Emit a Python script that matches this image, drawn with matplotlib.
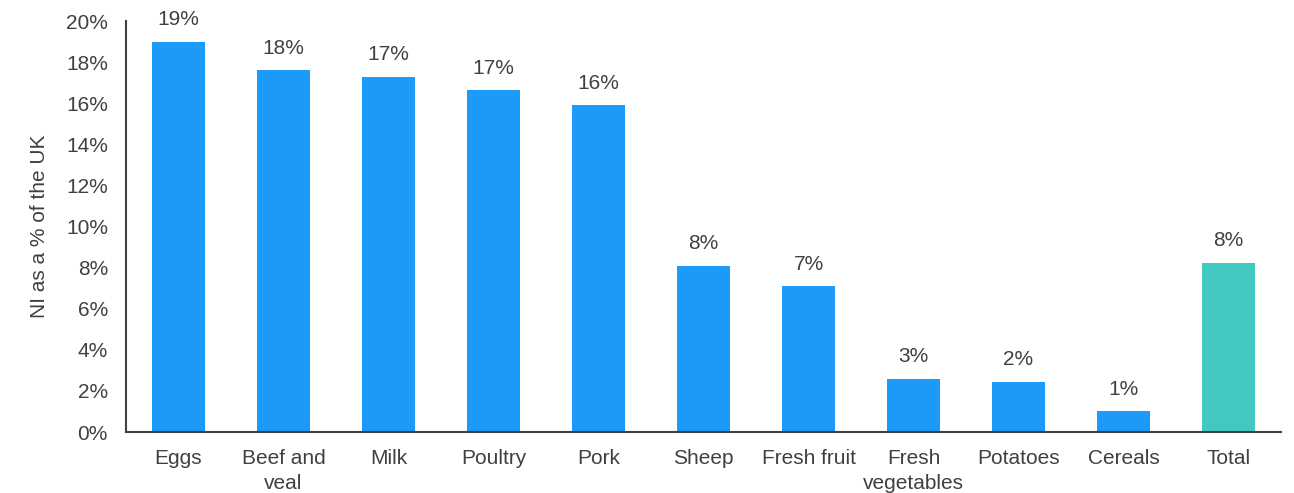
import numpy as np
import matplotlib.pyplot as plt

plt.rcParams['font.family'] = ['Liberation Sans', 'DejaVu Sans']

categories = ['Eggs', 'Beef and\nveal', 'Milk', 'Poultry', 'Pork', 'Sheep',
              'Fresh fruit', 'Fresh\nvegetables', 'Potatoes', 'Cereals', 'Total']
values = [19.0, 17.6, 17.3, 16.65, 15.9, 8.1, 7.1, 2.6, 2.45, 1.0, 8.25]
colors = ['#1B9AF9'] * 10 + ['#42C8C0']

text_col = '#404040'
fs = 15

fig = plt.figure(figsize=(12.94, 4.93), dpi=100)
ax = fig.add_axes([0.0974, 0.1237, 0.8926, 0.8333])

x = np.arange(len(categories))
bars = ax.bar(x, values, width=0.5, color=colors)

for xi, v in zip(x, values):
    ax.annotate(f'{round(v)}%', (xi, v), xytext=(0, 9), textcoords='offset points',
                ha='center', va='bottom', fontsize=fs, color=text_col)

ax.set_xlim(-0.5, len(categories) - 0.5)
ax.set_ylim(0, 20)
ax.set_yticks(np.arange(0, 21, 2))
ax.set_yticklabels([f'{t}%' for t in range(0, 21, 2)])
ax.set_xticks(x)
ax.set_xticklabels(categories, linespacing=1.45)
ax.tick_params(length=0, labelsize=fs, colors=text_col)
ax.tick_params(axis='y', pad=13)
ax.tick_params(axis='x', pad=12)
ax.set_ylabel('NI as a % of the UK', fontsize=fs, color=text_col, labelpad=12)

for s in ['top', 'right']:
    ax.spines[s].set_visible(False)
for s in ['left', 'bottom']:
    ax.spines[s].set_color('#404040')
    ax.spines[s].set_linewidth(1.5)

fig.savefig('out.png', dpi=100)
